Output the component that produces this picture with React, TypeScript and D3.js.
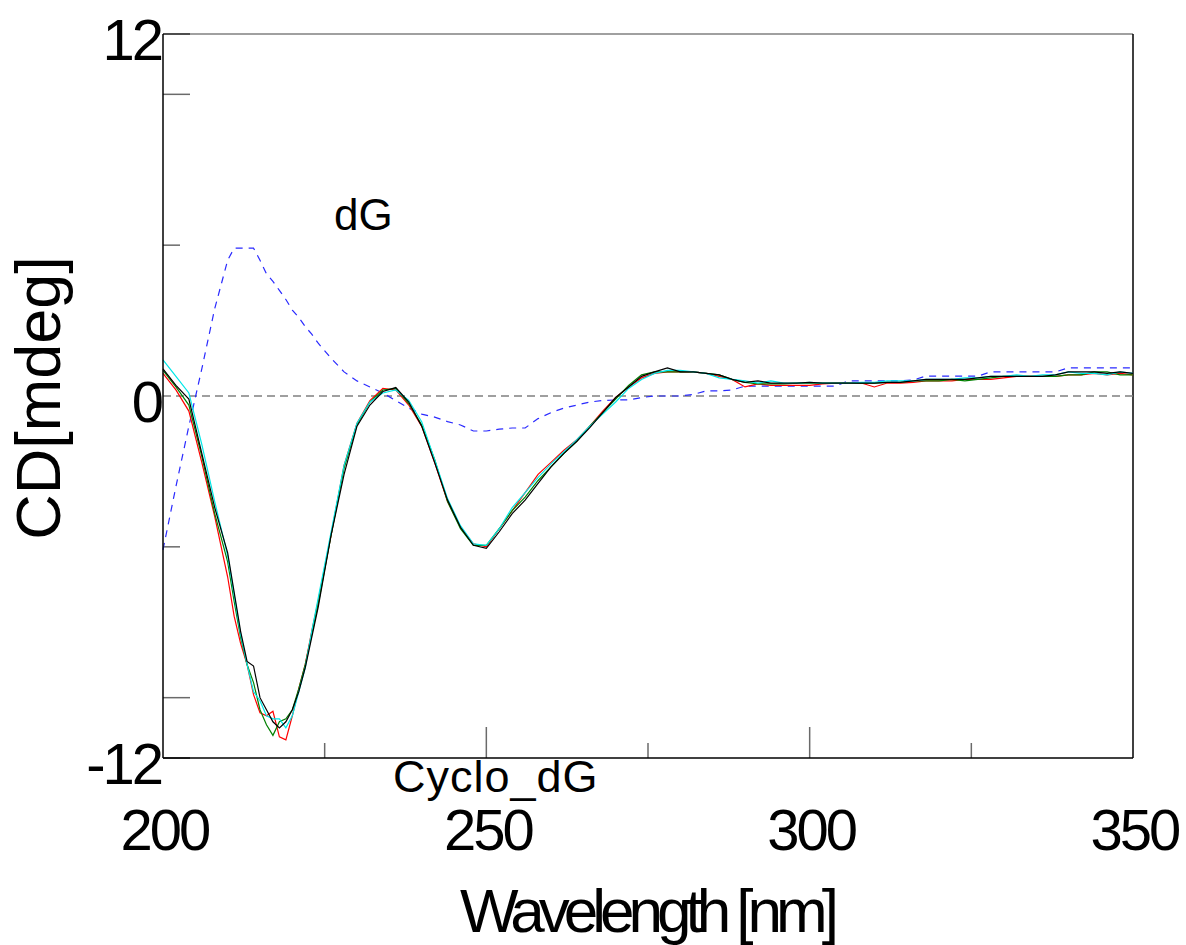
import React, { useEffect, useRef } from 'react';
import * as d3 from 'd3';

// wavelength grid (nm) used by every trace
const wavelengths = [
  200, 202, 204, 206, 208,
  210, 211, 212, 213, 214, 215, 216, 217, 218, 219, 220, 221, 222, 223, 224,
  226, 228, 230, 232, 234, 236, 238, 240, 242, 244, 246, 248, 250, 252, 254, 256, 258, 260,
  262, 264, 266, 268, 270, 272, 274, 276, 278, 280, 282, 284, 286, 288, 290, 292, 294, 296,
  298, 300, 302, 304, 306, 308, 310, 312, 314, 316, 318, 320, 322, 324, 326, 328, 330, 332,
  334, 336, 338, 340, 342, 344, 346, 348, 350
];

// CD [mdeg] traces
const cycloBlack = [
  0.9, 0.35, -0.1, -1.9, -3.7,
  -5.2, -6.5, -7.8, -8.8, -8.95, -10.0, -10.4, -10.8, -11.0, -10.8, -10.4, -9.8, -9.0, -8.0, -7.0,
  -4.6, -2.6, -1.0, -0.3, 0.15, 0.28, -0.2, -1.0, -2.2, -3.45, -4.35, -4.95, -5.05, -4.5, -3.9, -3.45, -2.9, -2.35,
  -1.9, -1.5, -1.05, -0.55, -0.05, 0.3, 0.65, 0.8, 0.93, 0.8, 0.8, 0.75, 0.7, 0.55, 0.45, 0.5, 0.43, 0.43,
  0.43, 0.45, 0.43, 0.43, 0.43, 0.43, 0.43, 0.45, 0.45, 0.5, 0.55, 0.55, 0.55, 0.55, 0.6, 0.65, 0.65, 0.65,
  0.65, 0.65, 0.7, 0.8, 0.8, 0.8, 0.75, 0.8, 0.75
];
const cycloRed = [
  0.75, 0.2, -0.5, -2.2, -4.0,
  -6.0, -7.3, -8.2, -8.9, -9.9, -10.5, -10.6, -10.45, -11.3, -11.4, -10.6, -9.7, -8.9, -7.8, -6.8,
  -4.6, -2.3, -0.9, -0.15, 0.25, 0.2, -0.3, -1.0, -2.2, -3.5, -4.35, -4.9, -5.0, -4.4, -3.8, -3.2, -2.6, -2.2,
  -1.8, -1.45, -1.0, -0.5, -0.05, 0.3, 0.6, 0.75, 0.8, 0.8, 0.8, 0.75, 0.65, 0.55, 0.3, 0.4, 0.35, 0.35,
  0.35, 0.35, 0.4, 0.43, 0.43, 0.43, 0.3, 0.43, 0.43, 0.45, 0.5, 0.5, 0.5, 0.55, 0.55, 0.55, 0.6, 0.65,
  0.65, 0.65, 0.65, 0.7, 0.7, 0.75, 0.7, 0.75, 0.7
];
const cycloGreen = [
  0.85, 0.3, -0.3, -2.0, -3.9,
  -5.5, -6.8, -8.0, -8.9, -9.5, -10.4, -10.9, -11.25, -10.8, -10.7, -10.4, -9.7, -8.9, -7.9, -6.9,
  -4.6, -2.4, -0.95, -0.2, 0.2, 0.25, -0.25, -0.95, -2.1, -3.5, -4.4, -4.95, -4.95, -4.4, -3.8, -3.35, -2.8, -2.35,
  -1.9, -1.5, -1.0, -0.55, -0.1, 0.35, 0.7, 0.8, 0.8, 0.8, 0.8, 0.75, 0.7, 0.55, 0.45, 0.4, 0.4, 0.4,
  0.43, 0.43, 0.43, 0.43, 0.43, 0.43, 0.43, 0.45, 0.45, 0.5, 0.5, 0.5, 0.55, 0.5, 0.55, 0.6, 0.65, 0.65,
  0.65, 0.65, 0.65, 0.7, 0.7, 0.8, 0.8, 0.7, 0.7
];
const cycloCyan = [
  1.2, 0.65, 0.1, -1.6, -3.5,
  -5.3, -6.6, -7.9, -8.9, -9.8, -10.1, -10.6, -10.7, -10.7, -11.0, -10.6, -9.8, -9.0, -7.8, -6.7,
  -4.5, -2.3, -0.9, -0.2, 0.1, 0.2, -0.15, -0.85, -2.1, -3.4, -4.3, -4.9, -4.95, -4.4, -3.7, -3.2, -2.7, -2.25,
  -1.85, -1.45, -1.0, -0.6, -0.2, 0.25, 0.55, 0.75, 0.85, 0.85, 0.8, 0.75, 0.6, 0.55, 0.5, 0.43, 0.5, 0.43,
  0.43, 0.45, 0.43, 0.43, 0.43, 0.45, 0.45, 0.5, 0.5, 0.5, 0.55, 0.55, 0.55, 0.6, 0.6, 0.65, 0.65, 0.7,
  0.65, 0.7, 0.7, 0.8, 0.75, 0.75, 0.7, 0.8, 0.75
];
const dG = [
  -5.1, -3.0, -1.0, 0.9, 2.9,
  4.5, 4.9, 4.9, 4.9, 4.9, 4.5, 4.05, 3.8, 3.5, 3.2, 2.85, 2.6, 2.3, 2.05, 1.75,
  1.25, 0.8, 0.5, 0.3, 0.1, -0.15, -0.4, -0.6, -0.7, -0.85, -0.96, -1.16, -1.16, -1.1, -1.06, -1.06, -0.75, -0.55,
  -0.4, -0.3, -0.2, -0.15, -0.13, -0.13, -0.05, 0.0, 0.0, 0.0, 0.05, 0.17, 0.17, 0.2, 0.33, 0.33, 0.33, 0.33,
  0.33, 0.33, 0.33, 0.33, 0.5, 0.5, 0.5, 0.5, 0.5, 0.53, 0.66, 0.66, 0.66, 0.66, 0.66, 0.8, 0.8, 0.8,
  0.8, 0.8, 0.8, 0.93, 0.93, 0.93, 0.93, 0.93, 0.93
];

const xTickLabels = [200, 250, 300, 350];
const xMajorTicks = [250, 300];
const xMinorTicks = [225, 275, 325];
const yTickLabels = [12, 0, -12];
const yMajorTicks = [12, 10, -10, -12];
const yMinorTicks = [5, -5];

const FONT = 'Liberation Sans, Arial, sans-serif';

const App = () => {
  const chartRef = useRef<SVGSVGElement>(null);

  useEffect(() => {
    drawChart();
  }, []);

  const drawChart = () => {
    const svg = d3.select(chartRef.current);
    svg.selectAll('*').remove();

    const x = d3.scaleLinear().domain([200, 350]).range([163, 1133]);
    const y = d3.scaleLinear().domain([-12, 12]).range([758, 34]);
    const [x0, x1] = x.range();
    const [yb, yt] = y.range();

    // frame
    svg.append('line').attr('x1', x0).attr('x2', x1).attr('y1', yt).attr('y2', yt)
      .attr('stroke', '#808080').attr('stroke-width', 1.5);
    svg.append('line').attr('x1', x1).attr('x2', x1).attr('y1', yt).attr('y2', yb)
      .attr('stroke', '#000').attr('stroke-width', 1.5);

    // ticks
    const tickColor = '#6a6a6a';
    svg.selectAll('.ymaj').data(yMajorTicks).enter().append('line')
      .attr('x1', x0).attr('x2', x0 + 27).attr('y1', d => y(d)).attr('y2', d => y(d))
      .attr('stroke', d => (Math.abs(d) === 12 ? '#333' : tickColor)).attr('stroke-width', 1.5);
    svg.selectAll('.ymin').data(yMinorTicks).enter().append('line')
      .attr('x1', x0).attr('x2', x0 + 17).attr('y1', d => y(d)).attr('y2', d => y(d))
      .attr('stroke', tickColor).attr('stroke-width', 1.5);
    svg.selectAll('.xmaj').data(xMajorTicks).enter().append('line')
      .attr('x1', d => x(d)).attr('x2', d => x(d)).attr('y1', yb).attr('y2', yb - 31)
      .attr('stroke', tickColor).attr('stroke-width', 1.5);
    svg.selectAll('.xmin').data(xMinorTicks).enter().append('line')
      .attr('x1', d => x(d)).attr('x2', d => x(d)).attr('y1', yb).attr('y2', yb - 15)
      .attr('stroke', tickColor).attr('stroke-width', 1.5);

    // zero line
    svg.append('line').attr('x1', x0).attr('x2', x1).attr('y1', y(0)).attr('y2', y(0))
      .attr('stroke', '#808080').attr('stroke-width', 1.5).attr('stroke-dasharray', '8,5');

    const line = d3.line<number>()
      .x((_, i) => x(wavelengths[i]))
      .y(d => y(d));

    svg.append('path').datum(dG).attr('d', line).attr('fill', 'none')
      .attr('stroke', '#2a2aff').attr('stroke-width', 1.2).attr('stroke-dasharray', '7,6');

    const traces: [number[], string][] = [
      [cycloRed, '#ff0000'],
      [cycloGreen, '#008000'],
      [cycloCyan, '#00e8e8'],
      [cycloBlack, '#000000']
    ];
    traces.forEach(([vals, color]) => {
      svg.append('path').datum(vals).attr('d', line).attr('fill', 'none')
        .attr('stroke', color).attr('stroke-width', 1.2);
    });

    // left & bottom axes
    svg.append('line').attr('x1', x0).attr('x2', x0).attr('y1', yt).attr('y2', yb)
      .attr('stroke', '#000').attr('stroke-width', 1.5);
    svg.append('line').attr('x1', x0).attr('x2', x1).attr('y1', yb).attr('y2', yb)
      .attr('stroke', '#000').attr('stroke-width', 1.5);

    // tick labels
    svg.selectAll('.xl').data(xTickLabels).enter().append('text')
      .attr('x', d => x(d) + 1.5).attr('y', 850)
      .attr('text-anchor', 'middle').attr('font-family', FONT).attr('font-size', 58)
      .attr('letter-spacing', -3).text(d => d);
    svg.selectAll('.yl').data(yTickLabels).enter().append('text')
      .attr('x', 161).attr('y', d => y(d) + 26)
      .attr('text-anchor', 'end').attr('font-family', FONT).attr('font-size', 58)
      .attr('letter-spacing', -3).text(d => d);

    // axis titles
    svg.append('text').attr('x', 460).attr('y', 932)
      .attr('font-family', FONT).attr('font-size', 62).attr('letter-spacing', -6)
      .text('Wavelength [nm]');
    svg.append('text').attr('transform', 'translate(60,398) rotate(-90)')
      .attr('text-anchor', 'middle').attr('font-family', FONT).attr('font-size', 63)
      .text('CD[mdeg]');

    // annotations
    svg.append('text').attr('x', 334).attr('y', 230)
      .attr('font-family', FONT).attr('font-size', 44).text('dG');
    svg.append('text').attr('x', 393).attr('y', 792)
      .attr('font-family', FONT).attr('font-size', 45).attr('letter-spacing', 1).text('Cyclo_dG');
  };

  return (
    <svg
      ref={chartRef}
      width={1186}
      height={945}
      style={{ position: 'absolute', left: 0, top: 0, background: '#fff' }}
    />
  );
};

export default App;
